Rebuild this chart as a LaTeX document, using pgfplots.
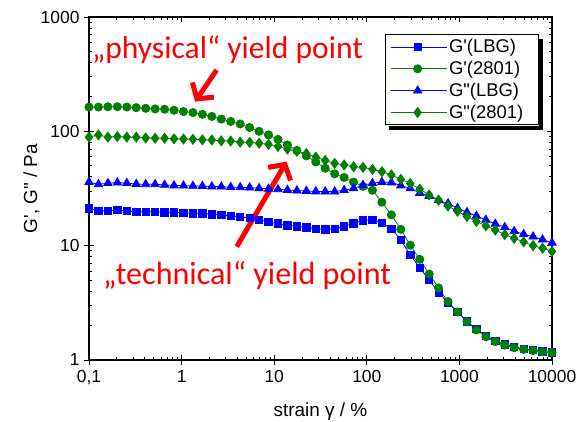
\documentclass[border=0pt]{standalone}
\usepackage{fontspec}
\setmainfont{Liberation Sans}[Ligatures=TeXOff]
\newfontfamily\calibri{Carlito}
\usepackage{pgfplots}
\pgfplotsset{compat=1.18}
\usepackage{pgfplotstable}
\usetikzlibrary{arrows.meta,calc}

\definecolor{ogreen}{RGB}{0,128,0}
\definecolor{oblue}{RGB}{0,0,255}
\definecolor{ored}{RGB}{255,0,0}

\pgfplotstableread{
x      gsl   gc    gtl   gd
0.1    21.2  163   36    89
0.1265 20.2  163   34.4  93
0.16   20.1  164   35.2  89
0.2024 20.5  164   35.6  90
0.256  20.1  163   35.2  89
0.3237 19.8  161   34.6  89
0.4095 19.8  159   34.4  87.5
0.5179 19.8  157   34.4  87
0.6551 19.6  156   34    87
0.8286 19.6  153   33.6  86
1.048  19.4  149   33.5  85.8
1.326  19.2  146   33.3  85.2
1.677  19.2  141   33.2  84.3
2.121  18.8  135   32.9  84
2.683  18.6  128   32.8  82.6
3.393  18.2  122   32.5  82.2
4.292  17.9  116   32.4  80.5
5.429  17.4  108   32.2  80
6.866  16.8  100   31.8  78.7
8.685  16.2  93    31.4  77
10.985 15.6  85    31.1  73.8
13.89  15.1  76    30.7  70
17.58  14.8  68    30.3  67
22.23  14.4  61    30.1  64
28.12  14.1  54    29.8  59.5
35.56  13.9  47.5  29.7  55.6
44.98  14.1  42.5  29.7  52.5
56.9   14.8  39.5  30.6  50.8
71.97  15.7  36    31.7  49
91.03  16.7  33    33.8  48.4
115.1  16.8  30.5  35.2  46.5
145.6  15.9  24    36    44.4
184.2  14.1  18.6  35.7  41.6
233    11.2  13.9  33.6  38
294.7  8.3   10.1  31.7  35
372.8  6.4   7.6   28.9  31.2
471.5  5.0   5.65  27.2  27.8
596.4  3.9   4.27  25    25
754.4  3.17  3.24  23.4  22.2
954.1  2.62  2.63  21.3  20
1207   2.18  2.16  19.6  18
1527   1.86  1.83  18.2  16.3
1931   1.62  1.6   16.8  14.9
2442   1.47  1.45  15.5  13.7
3089   1.37  1.35  14.5  12.5
3907   1.3   1.28  13.4  11.6
4942   1.25  1.24  12.6  10.8
6251   1.22  1.21  12.0  10
7907   1.19  1.18  11.3  9.5
10000  1.17  1.16  10.6  8.9
}\data

\begin{document}
\begin{tikzpicture}
\begin{axis}[
  scale only axis, width=463bp, height=343bp,
  xmode=log, ymode=log,
  xmin=0.1, xmax=10000, ymin=1, ymax=1000,
  xtick={0.1,1,10,100,1000,10000},
  xticklabels={{0,1},1,10,100,1000,10000},
  ytick={1,10,100,1000},
  yticklabels={1,10,100,1000},
  tick align=inside,
  major tick length=5bp, minor tick length=3bp,
  every tick/.style={black, line width=0.9bp},
  axis line style={black, line width=1.3bp},
  extra x ticks={0.1,1,10,100,1000,10000},
  extra x tick labels={},
  extra x tick style={tick align=outside, xtick pos=bottom},
  extra y ticks={1,10,100,1000},
  extra y tick labels={},
  extra y tick style={tick align=outside, ytick pos=left},
  ticklabel style={font=\fontsize{17.5}{21}\selectfont},
  yticklabel style={xshift=-6bp},
  xticklabel style={yshift=-7bp},
  /pgf/number format/assume math mode=true,
  xlabel={strain γ / \%},
  ylabel={G', G" / Pa},
  label style={font=\fontsize{19}{22}\selectfont},
  xlabel style={at={(axis description cs:0.5,-0.166)}, anchor=base},
  ylabel style={at={(axis description cs:-0.124,0.5)}, anchor=center},
  legend style={name=leg, at={(axis description cs:0.639,0.950)}, anchor=north west,
    font=\fontsize{18.5}{21}\selectfont, draw=black, line width=0.8bp, fill=white,
    inner xsep=5bp, inner ysep=3bp, row sep=3bp},
  legend cell align=left,
  legend image code/.code={\path (-6bp,0bp) -- (50bp,0bp); \draw[mark repeat=2,mark phase=2,#1] plot coordinates {(0bp,0bp) (21bp,0bp) (42bp,0bp)};},
]
\addplot[oblue, line width=0.8bp, mark=square*, mark size=3.7bp, mark options={solid}] table[x=x, y=gsl] {\data};
\addlegendentry{G'(LBG)\rule{8bp}{0pt}}
\addplot[ogreen, line width=0.8bp, mark=*, mark size=4.1bp, mark options={solid}] table[x=x, y=gc] {\data};
\addlegendentry{G'(2801)\rule{8bp}{0pt}}
\addplot[oblue, line width=0.8bp, mark=triangle*, mark size=4.8bp, mark options={solid}] table[x=x, y=gtl] {\data};
\addlegendentry{G"(LBG)\rule{8bp}{0pt}}
\addplot[ogreen, line width=0.8bp, mark=diamond*, mark size=5bp, mark options={solid}] table[x=x, y=gd] {\data};
\addlegendentry{G"(2801)\rule{8bp}{0pt}}

\node[anchor=base west, text=ored, inner sep=0pt, font=\calibri\fontsize{31.7}{36}\selectfont] at (axis cs:0.1077,430) {„physical“ yield point};
\node[anchor=base west, text=ored, inner sep=0pt, font=\calibri\fontsize{32.2}{36}\selectfont] at (axis cs:0.1416,4.62) {„technical“ yield point};
\draw[ored, line width=5bp, -{Straight Barb[length=11bp,width=26bp]}] (axis cs:2.39,344) -- (axis cs:1.40,182);
\draw[ored, line width=5bp, -{Straight Barb[length=11bp,width=26bp]}] (axis cs:3.94,9.8) -- (axis cs:13.6,54.3);
\end{axis}
\fill[black] ($(leg.south east)+(0.4bp,-4.5bp)$) rectangle ($(leg.north east)+(4.5bp,-4.5bp)$);
\fill[black] ($(leg.south west)+(4.5bp,-0.4bp)$) rectangle ($(leg.south east)+(4.5bp,-4.5bp)$);
\pgfresetboundingbox
\path (current axis.south west) ++(-89bp,-62bp) rectangle ++(579bp,422bp);
\end{tikzpicture}
\end{document}
